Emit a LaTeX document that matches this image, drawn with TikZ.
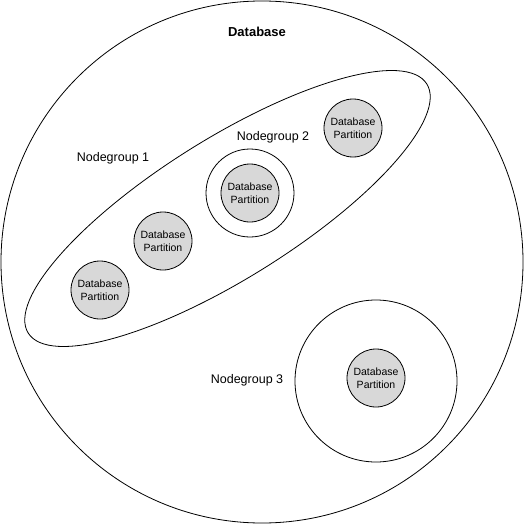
\documentclass[tikz,border=0pt]{standalone}
\usepackage{fontspec}
\setmainfont{Liberation Sans}
\definecolor{partfill}{RGB}{216,216,216}
\begin{document}
\begin{tikzpicture}[x=1pt,y=-1pt,line width=0.8pt,
  partition/.style={circle,draw=black,fill=partfill,minimum size=58pt,inner sep=0pt,align=center,
    font=\fontsize{10.5}{12.5}\selectfont},
  grouplabel/.style={font=\fontsize{12.5}{14}\selectfont,inner sep=0pt},
  groupring/.style={circle,draw=black,inner sep=0pt}]
\useasboundingbox (0,0) rectangle (524,524);
\node[circle,draw=black,minimum size=522pt,inner sep=0pt] (db) at (262,262) {};
\node[font=\fontsize{13}{15}\selectfont\bfseries] (dblabel) at (257,32) {Database};
\draw[rotate around={32:(227.5,208.5)}] (227.5,208.5) ellipse [x radius=235pt, y radius=70pt];
\node[grouplabel] (ng1) at (113,158) {Nodegroup 1};
\node[grouplabel] (ng2) at (273,137) {Nodegroup 2};
\node[grouplabel] (ng3) at (247,380) {Nodegroup 3};
\node[groupring,minimum size=88pt] (ring2) at (250,193) {};
\node[groupring,minimum size=162pt] (ring3) at (376,381) {};
\node[partition] (p1) at (100,290) {Database\\Partition};
\node[partition] (p2) at (163,241) {Database\\Partition};
\node[partition] (p3) at (250,193) {Database\\Partition};
\node[partition] (p4) at (353,128) {Database\\Partition};
\node[partition] (p5) at (376,378) {Database\\Partition};
\end{tikzpicture}
\end{document}
